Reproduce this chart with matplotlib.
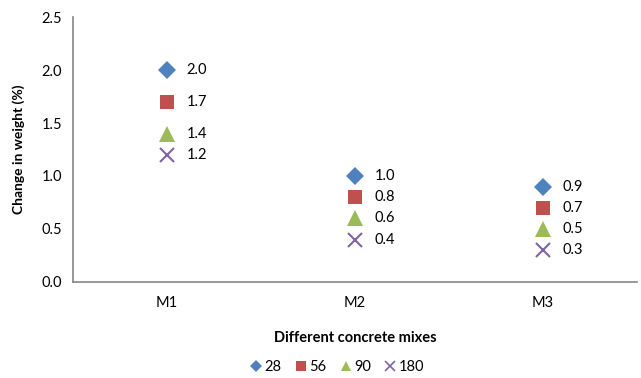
import matplotlib.pyplot as plt
import numpy as np

plt.rcParams['font.family'] = ['Lato', 'DejaVu Sans']

mixes = ["M1", "M2", "M3"]
ages = ["28", "56", "90", "180"]
change_28 = [2.0, 1.0, 0.9]
change_56 = [1.7, 0.8, 0.7]
change_90 = [1.4, 0.6, 0.5]
change_180 = [1.2, 0.4, 0.3]

series = [change_28, change_56, change_90, change_180]
markers = ["D", "s", "^", "x"]
colors = ["#4F81BD", "#C0504D", "#9BBB59", "#8064A2"]
sizes = [9.5, 10.5, 11.5, 10]

fig = plt.figure(figsize=(6.41, 3.78), dpi=100)
ax = fig.add_axes([0.114, 0.254, 0.88, 0.701])

x = np.arange(1, len(mixes) + 1)
for vals, m, c, s, lab in zip(series, markers, colors, sizes, ages):
    ax.plot(x, vals, linestyle="none", marker=m, color=c, markersize=s,
            markeredgewidth=1.5 if m == "x" else 0, label=lab)
    for xi, v in zip(x, vals):
        ax.annotate(f"{v:.1f}", (xi, v), xytext=(14, 0), textcoords="offset points",
                    va="center", ha="left", fontsize=10.5, color="black")

ax.set_xlim(0.5, 3.5)
ax.set_ylim(0, 2.5)
ax.set_xticks(x)
ax.set_xticklabels(mixes)
ax.set_yticks(np.arange(0, 2.51, 0.5))
ax.set_yticklabels([f"{t:.1f}" for t in np.arange(0, 2.51, 0.5)])
ax.tick_params(length=0, labelsize=10.5, pad=8)
ax.tick_params(axis="x", pad=10)

for side in ["top", "right"]:
    ax.spines[side].set_visible(False)
for side in ["left", "bottom"]:
    ax.spines[side].set_color("#868686")
    ax.spines[side].set_linewidth(1.2)

ax.set_ylabel("Change in weight (%)", fontsize=10, fontweight="bold", labelpad=12)
ax.set_xlabel("Different concrete mixes", fontsize=10.5, fontweight="bold", labelpad=15)

handles = []
for m, c, lab in zip(markers, colors, ages):
    h, = ax.plot([], [], linestyle="none", marker=m, color=c, markersize=6.5,
                 markeredgewidth=1.2 if m == "x" else 0, label=lab)
    handles.append(h)
fig.legend(handles=handles, loc="center", bbox_to_anchor=(0.525, 0.03), ncol=4,
           frameon=False, fontsize=10.5, handletextpad=0.1, columnspacing=0.8,
           handlelength=1.0)

fig.savefig("out.png", dpi=100)
